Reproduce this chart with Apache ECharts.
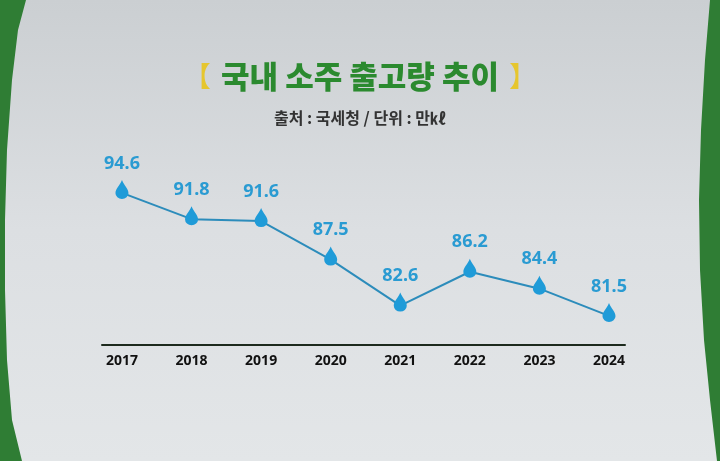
<!DOCTYPE html>
<html><head><meta charset="utf-8">
<script src="https://cdn.jsdelivr.net/npm/echarts@6/dist/echarts.min.js"></script>
<style>html,body{margin:0;padding:0;background:#2f7d34;}#c{width:720px;height:461px;}</style>
</head><body><div id="c"></div>
<script>
const years = ['2017','2018','2019','2020','2021','2022','2023','2024'];
const values = [94.6, 91.8, 91.6, 87.5, 82.6, 86.2, 84.4, 81.5];
const titleText = '국내 소주 출고량 추이';
const subText = '출처 : 국세청 / 단위 : 만㎘';

const drop = 'path://M0,-11 C2,-5 6,-2 6,3 A6,6 0 1,1 -6,3 C-6,-2 -2,-5 0,-11 Z';
const chart = echarts.init(document.getElementById('c'));
chart.setOption({
  backgroundColor: '#2f7d34',
  graphic: [
    {type:'polygon', z:-10, silent:true,
     shape:{points:[[26,0],[710,0],[705,60],[701,130],[699,200],[700,270],[704,340],[710,400],[717,461],
                    [22,461],[12,420],[7,360],[5,290],[5,220],[7,150],[12,80],[18,30]]},
     style:{fill:{type:'linear',x:0,y:0,x2:0,y2:1,colorStops:[{offset:0,color:'#cbcfd2'},{offset:0.5,color:'#dcdfe2'},{offset:1,color:'#e3e6e8'}]}}}
  ],
  title: [
    {text:'{b|【}  {t|' + titleText + '}  {b|】}', left:'center', top:56,
     textStyle:{rich:{
       b:{color:'#e6c62e', fontSize:28, fontFamily:'Noto Sans CJK KR', fontWeight:'normal'},
       t:{color:'#2b8a2f', fontSize:31, fontFamily:'Noto Sans CJK KR', fontWeight:'900'}
     }}},
    {text: subText, left:'center', top:105,
     textStyle:{color:'#333', fontSize:16, fontWeight:'bold', fontFamily:'Noto Sans CJK KR'}}
  ],
  grid: {left:102, right:95, top:176, bottom:116},
  xAxis: {
    type:'value', min:-0.287, max:7.23,
    axisLine:{show:true, lineStyle:{color:'#1d2a1d', width:2}},
    axisTick:{show:false}, splitLine:{show:false},
    axisLabel:{customValues:[0,1,2,3,4,5,6,7], formatter:v=>years[Math.round(v)],
      color:'#111', fontSize:14, fontWeight:'bold', fontFamily:'Noto Sans', margin:9}
  },
  yAxis: {type:'value', min:78.4, max:96.4, show:false},
  series: [{
    type:'line',
    data: values.map((v,i)=>[i,v]),
    symbol: drop, symbolSize:[13,19], symbolOffset:[0,-3.5], showAllSymbol:true,
    itemStyle:{color:'#1f9bd8'},
    lineStyle:{color:'#2c8cbb', width:2},
    label:{show:true, position:'top', distance:7.5, formatter:p=>p.value[1].toFixed(1),
      color:'#2a9bd2', fontSize:18, fontWeight:'bold', fontFamily:'Noto Sans'},
    z:3
  }]
});
</script></body></html>
